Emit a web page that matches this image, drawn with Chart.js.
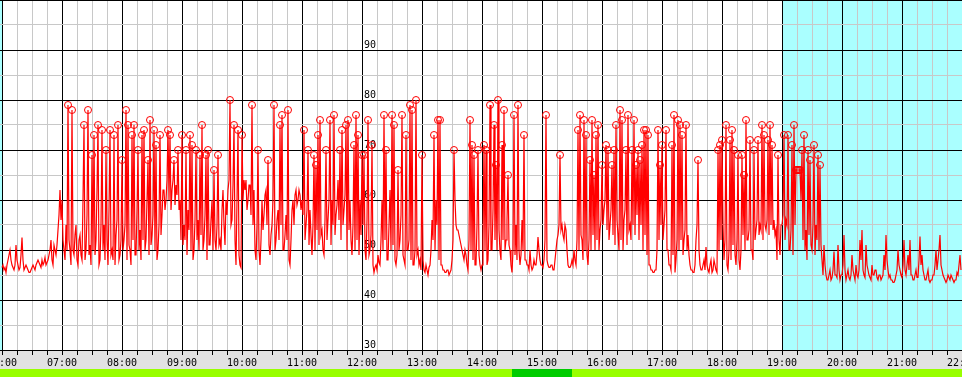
<!DOCTYPE html>
<html>
<head>
<meta charset="utf-8">
<script src="https://cdn.jsdelivr.net/npm/chart.js@4"></script>
<style>
  html, body { margin: 0; padding: 0; background: #fff; }
</style>
</head>
<body>
<canvas id="chart" width="962" height="377"></canvas>
<script>
// readings, one value per minute, one array per hour
const h06 = [46.5,47,46,46.5,45.5,47,48,49,50,48,47,46.5,46,47,51,48,47,46,46.5,49,52.5,48,46,46.5,47,46.5,46,45.5,45.5,46,46.5,47,46.5,46,47,47.5,48,47.5,47,46.5,48,47,47.5,48.5,47,47.5,48,49,50,52,48,47,51,50,49,51,54,57,62,56];
const h07 = [60,52,50,48,55,50,79,52,50,47,78,50,49,53,55,48,47,52,53,49,48,60,75,48,50,57,78,49,51,47,69,50,73,49,52,62,75,47,48,55,74,50,55,48,70,52,47,58,74,49,50,48,73,47,53,56,75,48,49,52];
const h08 = [68,50,52,55,78,48,75,51,50,47,73,52,75,49,49,58,70,50,54,48,73,52,74,50,52,60,68,49,76,51,53,57,74,50,71,48,50,55,73,53,57,62,62,58,60,64,74,60,73,58,62,64,68,59,63,61,70,58,60,52];
const h09 = [73,51,55,52,70,49,58,54,73,50,71,48,50,56,70,52,56,50,69,53,75,50,52,57,69,48,70,51,51,56,60,50,66,52,50,55,69,51,52,50,58,62,55,51,60,57,62,64,80,55,56,63,75,52,47,60,74,49,47,46.5];
const h10 = [73,60,64,62,64,58,60,63,63,57,79,55,62,50,48,55,70,50,47,52,60,54,57,61,62,55,68,51,49,53,55,60,79,50,52,56,58,52,75,55,77,50,50,53,57,52,78,48,47,52,58,60,55,61,62,59,60,62,61,58];
const h11 = [60,57,74,52,55,58,70,51,58,53,49,55,69,50,67,54,73,51,76,53,54,50,49,56,70,52,56,60,76,51,60,55,77,53,57,59,64,56,70,52,74,55,58,61,75,50,76,54,60,52,49,55,71,50,77,52,73,49,60,53];
const h12 = [69,55,69,50,48,56,76,49,50,53,71,47,45.5,46.5,47,46,49,47.5,47,52,60,50,77,52,70,48,48,55,62,50,77,51,75,48,47,49,66,50,52,57,77,49,48,47,73,50,50,52,79,48,78,47,47,50,80,49,50,47,48,46];
const h13 = [69,48,46,45.5,47,46,45,46.5,47,50,56,52,73,50,60,55,76,48,76,47,47,46,46,45.5,45.5,46,46,45,45.5,46,48,52,70,60,55,54,54,53,52,51,50,49,48,50,49,47,46,52,76,50,71,48,69,47,47,55,70,49,47,46];
const h14 = [47,52,71,50,70,47,48,55,79,50,50,58,75,52,67,50,80,54,49.7,48,71,52,78,50,52,56,65,51,50,47,45.5,50,77,49,55,48,79,50,47,49,56,50,73,48,48,47,47,46,50,47,46,46.5,48,47,47,49,52.6,50,48,47];
const h15 = [47,46.5,48,52,77,48,47,46.5,46.5,47,47,46,46,48,50,52,53,55,69,54,55,53,52,55,54,50,47,46.5,46.5,47,48,47,50,48,47,52,74,50,77,53,52,48,76,50,73,49,47,52,68,50,76,53,65,50,73,52,75,50,54,56];
const h16 = [67,55,58,60,71,54,70,52,55,58,67,53,70,51,75,56,53,50,78,52,76,50,56,58,70,51,77,54,55,52,70,55,76,53,67,57,70,52,68,55,71,50,74,53,74,49,73,47,47,46,46,45.5,45.5,46,46,50,74,52,67,55];
const h17 = [71,52,55,58,74,50,50,47,47,46,71,49,77,45.5,48,52,76,50,75,52,73,49,52,54,75,50,53,49,47,46,46,45.5,45.5,47,52,55,68,50,47,46,46,47,48,46,50.6,47,46,45.5,47,48,45.5,46,48,47,46,45.5,70,50,71,52];
const h18 = [72,55,48,52,75,47,46,50,72,48,74,51,70,49,47,52,69,48,46,50,69,53,65,50,76,52,52,54,72,50,50,48,70,52,54,56,72,53,55,54,75,52,73,55,54,56,72,53,75,55,71,54,56,53,54,48,69,52,49,55];
const h19 = [55,57,73,52,56,55,73,50,50,54,71,49,75,55,66,66,66,66,66,60,70,52,73,50,54,48,70,53,68,51,50,55,71,49,55,52,69,50,67,51,48,45,51,47,45,44,44,45,46,44,44.5,46,49.7,45,45,44.5,51,46,44,45];
const h20 = [45,47,53,46,44,45,46,44.5,44,45,49,46,45,44,47,45,44.5,46,52,48,54,46,45,44.5,51,47,46,45,44.5,44,47,45,45,46,46,44.5,44,45,45,44,44.5,45,49,46,53,48,46,44.5,45,44,44,43.5,43.5,44,45,46,50,47,46,45];
const h21 = [44.5,47,52,46,45,47,49,46,52,45,45,44,44,45,46,44.5,44.5,48,52.7,47,49,46,45,44,44,45,46,44,43.5,44,44,45,45,47,50,46,48,50,53,47,46,45,44.5,44,43.5,44,45,44.5,44,45,44.5,44,43.5,44,44,45.5,45,47,49,46];

const hours = [6,7,8,9,10,11,12,13,14,15,16,17,18,19,20,21];
const hourSeries = [h06,h07,h08,h09,h10,h11,h12,h13,h14,h15,h16,h17,h18,h19,h20,h21];

const hourLabels = ['06:00','07:00','08:00','09:00','10:00','11:00','12:00','13:00','14:00',
  '15:00','16:00','17:00','18:00','19:00','20:00','21:00','22:00'];
const yLabels = [30,40,50,60,70,80,90];

// shaded time spans (minutes of day) and the status bar under the axis
const nightSpans = [[300, 360], [1140, 1320]];
const statusSpans = [[300, 870, '#99ff00'], [870, 930, '#00cc00'], [930, 1330, '#99ff00']];

const markLevel = 65;

const points = [];
hours.forEach((h, k) => {
  hourSeries[k].forEach((v, i) => points.push({ x: h * 60 + i, y: v }));
});

const xTicks = [];
for (let m = 360; m <= 1320; m += 15) xTicks.push(m);
const yTicks = [];
for (let v = 30; v <= 100; v += 5) yTicks.push(v);

// backgrounds, bottom strip and the value labels in the middle of the plot
const decor = {
  id: 'decor',
  beforeDraw(chart) {
    const { ctx, chartArea, scales } = chart;
    ctx.save();
    ctx.fillStyle = '#fff';
    ctx.fillRect(0, 0, chart.width, chart.height);
    ctx.fillStyle = '#aaffff';
    nightSpans.forEach(([a, b]) => {
      const x1 = Math.max(scales.x.getPixelForValue(a), 0);
      const x2 = Math.min(scales.x.getPixelForValue(b), chart.width);
      ctx.fillRect(x1, chartArea.top, x2 - x1, chartArea.bottom - chartArea.top);
    });
    ctx.fillStyle = '#e2e2e2';
    ctx.fillRect(0, chartArea.bottom, chart.width, 369 - chartArea.bottom);
    statusSpans.forEach(([a, b, c]) => {
      const x1 = Math.max(scales.x.getPixelForValue(a), 0);
      const x2 = scales.x.getPixelForValue(b);
      ctx.fillStyle = c;
      ctx.fillRect(x1, 369, x2 - x1, chart.height - 369);
    });
    ctx.restore();
  },
  beforeDatasetsDraw(chart) {
    const { ctx, scales } = chart;
    ctx.save();
    ctx.font = '10px "DejaVu Sans Mono"';
    ctx.fillStyle = '#000';
    ctx.textBaseline = 'alphabetic';
    const x = scales.x.getPixelForValue(720) + 2;
    yLabels.forEach(v => ctx.fillText(String(v), x, scales.y.getPixelForValue(v) - 2));
    ctx.restore();
  }
};

new Chart(document.getElementById('chart'), {
  type: 'line',
  data: {
    datasets: [{
      data: points,
      borderColor: '#ff0000',
      borderWidth: 1.2,
      tension: 0,
      pointRadius: ctx => (ctx.raw && ctx.raw.y >= markLevel ? 3.5 : 0),
      pointBorderColor: '#ff0000',
      pointBackgroundColor: 'rgba(0,0,0,0)',
      pointBorderWidth: 1,
      pointHoverRadius: 0
    }]
  },
  options: {
    responsive: false,
    animation: false,
    events: [],
    layout: { autoPadding: false, padding: { left: 0, right: 0, top: 0, bottom: 6 } },
    plugins: { legend: { display: false }, tooltip: { enabled: false } },
    scales: {
      x: {
        type: 'linear',
        min: 358,
        max: 1320,
        afterBuildTicks: s => { s.ticks = xTicks.map(v => ({ value: v })); },
        // labels at the edges are cut off in the original, so no inner padding
        afterFit: s => { s.paddingLeft = 0; s.paddingRight = 0; },
        grid: {
          color: ctx => (ctx.tick && ctx.tick.value % 60 === 0 ? '#000' : '#c8c8c8'),
          tickColor: '#000',
          tickLength: 5,
          lineWidth: 1
        },
        border: { display: false },
        ticks: {
          autoSkip: false,
          maxRotation: 0,
          padding: 2,
          color: '#000',
          font: { family: 'DejaVu Sans Mono', size: 10 },
          callback: v => (v % 60 === 0 ? hourLabels[v / 60 - 6] : '')
        }
      },
      y: {
        min: 30,
        max: 100,
        afterBuildTicks: s => { s.ticks = yTicks.map(v => ({ value: v })); },
        grid: {
          color: ctx => (ctx.tick && ctx.tick.value % 10 === 0 ? '#000' : '#c8c8c8'),
          drawTicks: false,
          lineWidth: 1
        },
        border: { display: false },
        ticks: { display: false }
      }
    }
  },
  plugins: [decor]
});
</script>
</body>
</html>
